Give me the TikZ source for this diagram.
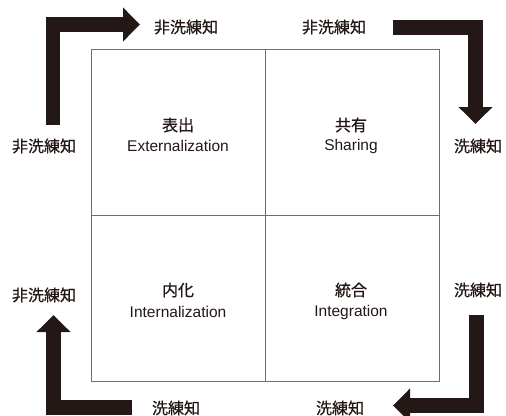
\documentclass[tikz,border=0pt]{standalone}
\usepackage{fontspec}
\setmainfont{Liberation Sans}
\newfontfamily\jp[FakeBold=0.6]{Noto Sans CJK JP}
\usetikzlibrary{arrows.meta}
\definecolor{ink}{HTML}{231815}
\definecolor{boxline}{HTML}{6E6E6E}
\begin{document}
\begin{tikzpicture}[x=1pt,y=-1pt,
  quad/.style={draw=boxline,line width=0.9pt,minimum width=174pt,minimum height=166pt,inner sep=0pt,anchor=north west},
  lbl/.style={font=\jp\fontsize{16}{18}\selectfont,text=ink,inner sep=0pt},
  qlbl/.style={font=\fontsize{15.5}{18}\selectfont,text=ink,inner sep=0pt},
  bigarrow/.style={draw=ink,line width=14.5pt,line join=miter,-{Triangle[length=17pt,width=33pt]}}]
\useasboundingbox (0,0) rectangle (506,415);
% quadrants
\node[quad] (q1) at (91,49) {};
\node[quad] (q2) at (265,49) {};
\node[quad] (q3) at (91,215) {};
\node[quad] (q4) at (265,215) {};
% quadrant texts
\node[lbl] (t1) at (178,125) {表出};
\node[qlbl] (e1) at (178,146) {Externalization};
\node[lbl] (t2) at (351,125) {共有};
\node[qlbl] (e2) at (351,146) {Sharing};
\node[lbl] (t3) at (178,290) {内化};
\node[qlbl] (e3) at (178,312) {Internalization};
\node[lbl] (t4) at (351,290) {統合};
\node[qlbl] (e4) at (351,312) {Integration};
% outer labels
\node[lbl] (a1) at (186,27) {非洗練知};
\node[lbl] (a2) at (334,27) {非洗練知};
\node[lbl] (a3) at (44,146) {非洗練知};
\node[lbl] (a4) at (478,146) {洗練知};
\node[lbl] (a5) at (44,295) {非洗練知};
\node[lbl] (a6) at (478,290) {洗練知};
\node[lbl] (a7) at (176,408) {洗練知};
\node[lbl] (a8) at (340,408) {洗練知};
% arrow anchors
\coordinate (s1) at (53,125);
\coordinate (c1) at (53,24.5);
\coordinate (e1a) at (140,24.5);
\coordinate (s2) at (393,27.5);
\coordinate (c2) at (475.5,27.5);
\coordinate (e2a) at (475.5,124);
\coordinate (s3) at (476.5,315);
\coordinate (c3) at (476.5,405.5);
\coordinate (e3a) at (393,405.5);
\coordinate (s4) at (132,407.5);
\coordinate (c4) at (53.5,407.5);
\coordinate (e4a) at (53.5,315);
\draw[bigarrow] (s1) -- (c1) -- (e1a);
\draw[bigarrow] (s2) -- (c2) -- (e2a);
\draw[bigarrow] (s3) -- (c3) -- (e3a);
\draw[bigarrow] (s4) -- (c4) -- (e4a);
\end{tikzpicture}
\end{document}
